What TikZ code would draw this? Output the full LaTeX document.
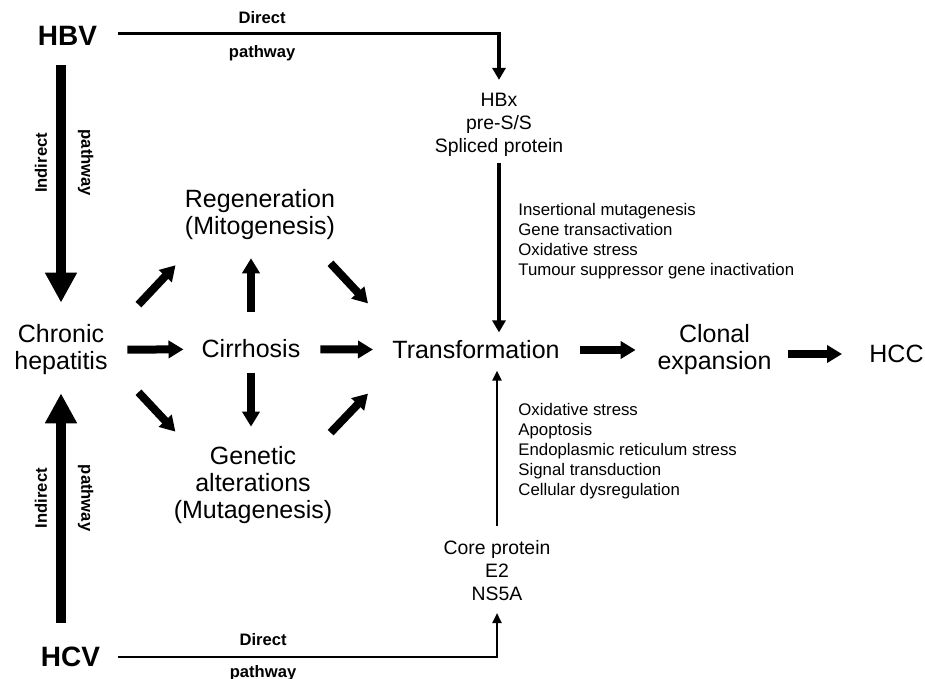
\documentclass[tikz,border=0pt]{standalone}
\usepackage{fontspec}
\setmainfont{Liberation Sans}
\usetikzlibrary{arrows.meta}

\begin{document}
\begin{tikzpicture}[x=0.5pt,y=-0.5pt,
	big/.style={font=\fontsize{12.5pt}{13.5pt}\selectfont,align=center,inner sep=0pt},
	mid/.style={font=\fontsize{9.7pt}{11.5pt}\selectfont,align=center,inner sep=0pt},
	small/.style={font=\fontsize{8.4pt}{10pt}\selectfont,align=left,inner sep=0pt,anchor=north west},
	virus/.style={font=\fontsize{14pt}{16pt}\selectfont\bfseries,inner sep=0pt},
	lab/.style={font=\fontsize{8.3pt}{10pt}\selectfont\bfseries,inner sep=0pt},
	fatarrow/.style={line width=4pt,-{Triangle[width=8.5pt,length=7.5pt]}},
	bigarrow/.style={line width=5pt,-{Triangle[width=15pt,length=15pt]}},
	direct/.style={line width=1.6pt,-{Triangle[width=6.5pt,length=6pt]}},
	directc/.style={line width=1.1pt,-{Triangle[width=4.5pt,length=5pt]}}]
	\useasboundingbox (0,0) rectangle (925,679);
	\node[virus] (hbv) at (67.5,36) {HBV};
	\node[virus] (hcv) at (70.5,657) {HCV};
	\node[big] (chronic) at (61,350) {Chronic\\hepatitis};
	\node[big] (cirr) at (251,349) {Cirrhosis};
	\node[big] (regen) at (260,215) {Regeneration\\(Mitogenesis)};
	\node[big] (genetic) at (253,485.5) {Genetic\\alterations\\(Mutagenesis)};
	\node[big] (trans) at (476,350) {Transformation};
	\node[big] (clonal) at (714.5,350) {Clonal\\expansion};
	\node[big] (hcc) at (896.5,354) {HCC};
	\node[mid] (hbx) at (499,125) {HBx\\pre-S/S\\Spliced protein};
	\node[mid] (core) at (497,570.5) {Core protein\\E2\\NS5A};
	\node[small] (hbvfx) at (518,202.8) {Insertional mutagenesis\\Gene transactivation\\Oxidative stress\\Tumour suppressor gene inactivation};
	\node[small] (hcvfx) at (518,402.6) {Oxidative stress\\Apoptosis\\Endoplasmic reticulum stress\\Signal transduction\\Cellular dysregulation};
	\draw[direct,shorten <=10.5pt,shorten >=6.5pt] ([yshift=1.3pt]hbv.east) -| (hbx.north) node[lab,pos=0.205,above=4pt] {Direct} node[lab,pos=0.205,below=5pt] {pathway};
	\draw[directc,shorten <=9pt,shorten >=6pt] (hcv.east) -| (core.south) node[lab,pos=0.205,above=5.3pt] {Direct} node[lab,pos=0.205,below=3.6pt] {pathway};
	\draw[direct,shorten <=3pt,shorten >=4pt] (hbx.south) -- (hbx.south |- trans.north);
	\draw[directc,shorten <=7pt,shorten >=5.5pt] (core.north) -- (core.north |- trans.south);
	\draw[bigarrow,shorten <=9.5pt,shorten >=10.9pt] (chronic.north |- hbv.south) -- (chronic.north) node[lab,rotate=90,anchor=south,inner sep=4.5pt,pos=0.42] {Indirect} node[lab,rotate=-90,anchor=south,inner sep=6pt,pos=0.42] {pathway};
	\draw[bigarrow,shorten <=12pt,shorten >=8.85pt] (chronic.south |- hcv.north) -- (chronic.south) node[lab,rotate=90,anchor=south,inner sep=4.5pt,pos=0.548] {Indirect} node[lab,rotate=-90,anchor=south,inner sep=6pt,pos=0.548] {pathway};
	\draw[fatarrow,shorten <=9.75pt,shorten >=8.9pt] (chronic) -- (cirr);
	\draw[fatarrow,shorten <=9.85pt,shorten >=9.5pt] (cirr) -- (trans);
	\draw[fatarrow,shorten <=10pt,shorten >=10.75pt] (trans) -- (clonal);
	\draw[fatarrow,shorten <=8.25pt,shorten >=13.5pt] (clonal.east |- hcc.west) -- (hcc.west);
	\draw[fatarrow,shorten <=13.9pt,shorten >=8.85pt] (cirr.north) -- (cirr.north |- regen.south);
	\draw[fatarrow,shorten <=7pt,shorten >=9.9pt] (cirr.south) -- (cirr.south |- genetic.north);
	\draw[fatarrow] ([xshift=15.25pt,yshift=9.9pt]chronic.north east) -- ([xshift=-4.5pt,yshift=-12.35pt]regen.south west);
	\draw[fatarrow] ([xshift=-2.5pt,yshift=-11.35pt]regen.south east) -- ([xshift=-12pt,yshift=18.5pt]trans.north west);
	\draw[fatarrow] ([xshift=15.25pt,yshift=-8.35pt]chronic.south east) -- ([xshift=1pt,yshift=7.4pt]genetic.north west);
	\draw[fatarrow] ([xshift=-1pt,yshift=6.9pt]genetic.north east) -- ([xshift=-12pt,yshift=-17pt]trans.south west);
\end{tikzpicture}
\end{document}
